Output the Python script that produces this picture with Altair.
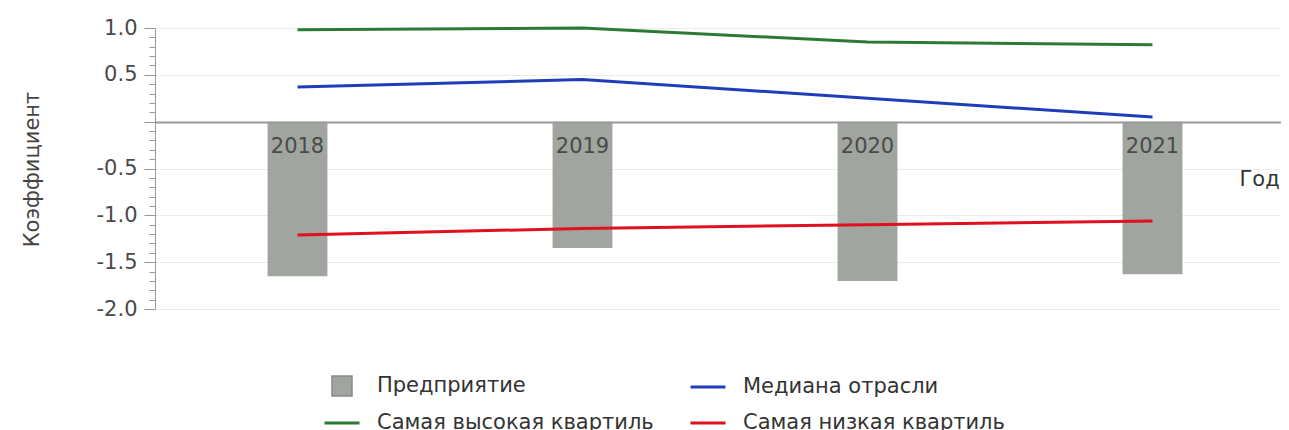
import altair as alt
import pandas as pd

years = ["2018", "2019", "2020", "2021"]
company = [-1.65, -1.35, -1.70, -1.63]
median = [0.37, 0.45, 0.25, 0.05]
upper = [0.98, 1.00, 0.85, 0.82]
lower = [-1.21, -1.14, -1.10, -1.06]

bar_name = "Предприятие"
median_name = "Медиана отрасли"
upper_name = "Самая высокая квартиль"
lower_name = "Самая низкая квартиль"
y_ticks = [round(-2 + 0.1 * i, 1) for i in range(31)]

bar_color = "#a1a59f"
median_color = "#1f3db8"
upper_color = "#2a7a33"
lower_color = "#e0101e"

FONT = "DejaVu Sans"
FS = 21

bars_df = pd.DataFrame({"year": years, "value": company, "series": bar_name})
lines_df = pd.DataFrame({
    "year": years * 3,
    "value": upper + median + lower,
    "series": [upper_name] * 4 + [median_name] * 4 + [lower_name] * 4,
})

major = "abs(datum.value * 2 - round(datum.value * 2)) < 0.001"

x_enc = alt.X(
    "year:N",
    sort=years,
    scale=alt.Scale(range=[0, 1140], paddingInner=0.79, paddingOuter=0.395),
    axis=alt.Axis(
        orient="bottom", offset=-187, ticks=False, grid=False, labelAngle=0,
        domainColor="#9a9a9a", domainWidth=2, labelPadding=13,
        labelFont=FONT, labelFontSize=FS, labelColor="#4a4a4a",
        title="Год", titleX=1084, titleY=57, titleAlign="left",
        titleBaseline="middle", titleFont=FONT, titleFontSize=FS,
        titleFontWeight="normal", titleColor="#333333", zindex=1,
    ),
)

y_enc = alt.Y(
    "value:Q",
    scale=alt.Scale(domain=[-2, 1], nice=False, zero=False),
    axis=alt.Axis(
        values=y_ticks,
        labelExpr="(" + major + ") && datum.value != 0 ? replace(format(datum.value, '.1f'), '\u2212', '-') : ''",
        tickSize={"condition": {"test": major, "value": 11}, "value": 6},
        gridOpacity={"condition": {"test": "(" + major + ") && datum.value != 0", "value": 1}, "value": 0},
        gridColor="#ececec", domainColor="#9a9a9a", tickColor="#9a9a9a",
        labelFont=FONT, labelFontSize=FS, labelColor="#4a4a4a", labelPadding=7,
        title="Коэффициент", titleFont=FONT, titleFontSize=FS,
        titleFontWeight="normal", titleColor="#444444",
        titleX=-123, titleY=141, titleBaseline="middle",
    ),
)

bars = alt.Chart(bars_df).mark_bar().encode(
    x=x_enc,
    y=y_enc,
    fill=alt.Fill(
        "series:N",
        scale=alt.Scale(domain=[bar_name], range=[bar_color]),
        legend=alt.Legend(
            orient="none", legendX=176, legendY=347, title=None, padding=0,
            direction="horizontal",
            symbolType="square", symbolSize=400, symbolStrokeColor="#86898a",
            symbolStrokeWidth=1.5, labelOffset=24, labelLimit=0,
            labelFont=FONT, labelFontSize=FS, labelColor="#333333",
        ),
    ),
)

lines = alt.Chart(lines_df).mark_line(strokeWidth=3).encode(
    x=x_enc,
    y=y_enc,
    stroke=alt.Stroke(
        "series:N",
        scale=alt.Scale(
            domain=[" ", median_name, upper_name, lower_name],
            range=["transparent", median_color, upper_color, lower_color],
        ),
        legend=alt.Legend(
            orient="none", legendX=168, legendY=340, title=None, padding=0,
            direction="horizontal", columns=2, columnPadding=30, rowPadding=7,
            symbolType="stroke", symbolSize=1225, symbolStrokeWidth=3,
            labelOffset=16, labelLimit=0,
            labelFont=FONT, labelFontSize=FS, labelColor="#333333",
        ),
    ),
)

chart = alt.layer(bars, lines).properties(
    width=1126,
    height=281,
    autosize=alt.AutoSizeParams(type="none"),
    padding={"left": 147, "top": 20, "right": 0, "bottom": 140},
).configure_view(stroke=None)

chart.save("out.html", embed_options={"renderer": "svg", "actions": False})
